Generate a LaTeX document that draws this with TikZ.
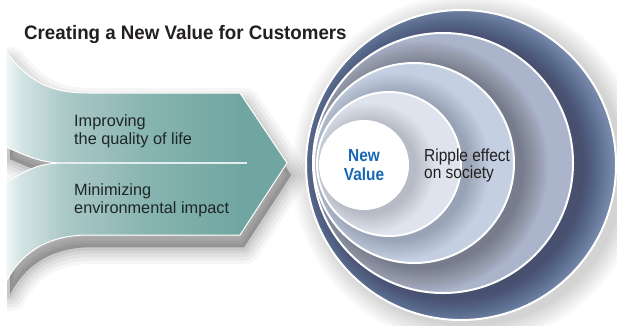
\documentclass[tikz,border=0pt]{standalone}
\usepackage{fontspec}
\setmainfont{Liberation Sans}
\newfontfamily\titlesans[FakeStretch=0.96]{Liberation Sans}
\newfontfamily\narrowsans[FakeStretch=0.89]{Liberation Sans}
\newfontfamily\condsans[FakeStretch=0.88]{Liberation Sans}
\newcommand\lstack[1]{\begin{tabular}[t]{@{}l@{}}#1\end{tabular}}
\newcommand\cstack[1]{\begin{tabular}[t]{@{}c@{}}#1\end{tabular}}

\definecolor{ttl}{RGB}{35,31,32}
\definecolor{bodytxt}{RGB}{30,38,38}
\definecolor{valueblue}{RGB}{22,104,178}
\definecolor{ringA}{RGB}{118,136,170}
\definecolor{ringB}{RGB}{170,180,203}
\definecolor{ringC}{RGB}{196,207,225}
\definecolor{ringD}{RGB}{222,227,238}
\definecolor{tl0}{RGB}{240,246,246}
\definecolor{tl1}{RGB}{212,228,228}
\definecolor{tl2}{RGB}{170,200,198}
\definecolor{tl3}{RGB}{135,180,176}
\definecolor{tl4}{RGB}{112,166,161}
\definecolor{midline}{RGB}{225,238,236}

% horizontal teal ramp; 25bp..75bp spans the filled path
\pgfdeclarehorizontalshading{bandteal}{100bp}{%
  color(0bp)=(tl0); color(25bp)=(tl0); color(27.7bp)=(tl1);
  color(35.6bp)=(tl2); color(50.5bp)=(tl3); color(66.7bp)=(tl4);
  color(100bp)=(tl4)}

\tikzset{
  label text/.style={inner sep=0pt, anchor=base west},
  ring edge/.style={draw=white, line width=2pt},
}

% outline of the two joined arrow bands
\def\bandpath{(6,52) .. controls (30,82) and (50,93) .. (88,93) -- (240,93)
  -- (287,163) -- (240,235) -- (88,235) .. controls (45,235) and (20,255) .. (6,282)
  -- (6,183) .. controls (25,170) and (40,163) .. (63,163)
  .. controls (40,163) and (25,155) .. (6,147) -- cycle}

\begin{document}
\begin{tikzpicture}[x=1pt,y=-1pt]
\useasboundingbox (0,0) rectangle (617,325);
\fill[white] (0,0) rectangle (617,325);

% ---- soft shadow under the arrow bands
\begin{scope}
  \clip (7,0) rectangle (617,325);
  \begin{scope}[shift={(4,12)}]
    \foreach \w/\o in {34/0.035,27/0.04,20/0.045,13/0.05,7/0.055,1/0.06}
      \filldraw[black, opacity=\o, line width=\w pt, line join=round] \bandpath;
  \end{scope}
\end{scope}

% ---- arrow bands
\shade[shading=bandteal] \bandpath;
\draw[white, line width=1pt, line join=miter] \bandpath;
\coordinate (midL) at (63,163);
\coordinate (midR) at (247,163);
\draw[midline, line width=1.3pt] (midL) -- (midR);

% ---- concentric rings
\coordinate (c1) at (461,165);
\coordinate (c2) at (443,163);
\coordinate (c3) at (414,163);
\coordinate (c4) at (389,164);
\coordinate (c5) at (364,165);

% outer ring shadow on the page
\foreach \s in {1,...,22}
  \fill[black, fill opacity=0.0065] ([xshift=7pt,yshift=-5pt]c1) circle [radius=155+\s];
\fill[ringA] (c1) circle [radius=155];

\begin{scope}
  \clip (c1) circle [radius=155];
  \foreach \s in {1,...,30}
    \fill[black, fill opacity=0.011] ([xshift=9pt,yshift=-4pt]c2) circle [radius=130+\s];
\end{scope}
\fill[ringB] (c2) circle [radius=130];

\begin{scope}
  \clip (c2) circle [radius=130];
  \foreach \s in {1,...,26}
    \fill[black, fill opacity=0.01] ([xshift=8pt,yshift=-4pt]c3) circle [radius=100+\s];
\end{scope}
\fill[ringC] (c3) circle [radius=100];

\begin{scope}
  \clip (c3) circle [radius=100];
  \foreach \s in {1,...,22}
    \fill[black, fill opacity=0.009] ([xshift=7pt,yshift=-3pt]c4) circle [radius=72+\s];
\end{scope}
\fill[ringD] (c4) circle [radius=72];

\begin{scope}
  \clip (c4) circle [radius=72];
  \foreach \s in {1,...,20}
    \fill[black, fill opacity=0.009] ([xshift=6pt,yshift=-3pt]c5) circle [radius=45+\s];
\end{scope}
\fill[white] (c5) circle [radius=45];

\path[ring edge] (c1) circle [radius=155];
\path[ring edge] (c2) circle [radius=130];
\path[ring edge] (c3) circle [radius=100];
\path[ring edge] (c4) circle [radius=72];

% ---- texts
\node[label text, text=ttl, font=\titlesans\fontsize{19.5}{22}\selectfont\bfseries] (title) at (24,39)
  {Creating a New Value for Customers};
\node[label text, text=bodytxt, font=\fontsize{16.3}{18}\selectfont] (life) at (74,126)
  {\lstack{Improving\\the quality of life}};
\node[label text, text=bodytxt, font=\fontsize{16.3}{18}\selectfont] (env) at (74,195)
  {\lstack{Minimizing\\environmental impact}};
\node[inner sep=0pt, anchor=base, text=valueblue, font=\condsans\fontsize{17.5}{19}\selectfont\bfseries] (newvalue) at (364,161)
  {\cstack{New\\Value}};
\node[label text, text=ttl, font=\narrowsans\fontsize{17.4}{17}\selectfont] (ripple) at (424,161)
  {\lstack{Ripple effect\\on society}};
\end{tikzpicture}
\end{document}
